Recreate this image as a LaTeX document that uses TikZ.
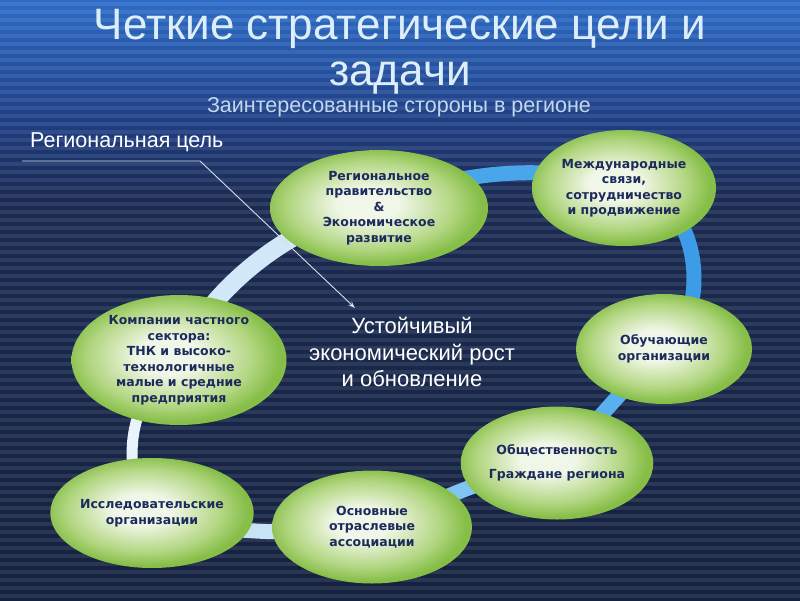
\documentclass[tikz,border=0pt]{standalone}
\usepackage{fontspec}
\setmainfont{Liberation Sans}
\newfontfamily\vfont{DejaVu Sans}
\usetikzlibrary{shapes.geometric,arrows.meta}

\definecolor{bgnavy}{HTML}{1A2A52}
\definecolor{bgdark}{HTML}{15223F}
\definecolor{bgblue}{HTML}{2C6CC8}
\definecolor{bgmid}{HTML}{1E3E84}
\definecolor{leafin}{HTML}{F1F7E8}
\definecolor{leafmid}{HTML}{B2D681}
\definecolor{leafout}{HTML}{86BE48}
\definecolor{leaftext}{HTML}{1C2A5C}
\definecolor{titlecol}{HTML}{DCEEFA}
\definecolor{subcol}{HTML}{C2D8EE}
\definecolor{ringA}{HTML}{D2E8F8}
\definecolor{ringB}{HTML}{4AA6EA}
\definecolor{ringC}{HTML}{3C9CE8}
\definecolor{ringD}{HTML}{58B0EE}
\definecolor{ringE}{HTML}{80C4F2}
\definecolor{ringF}{HTML}{C8E2F6}
\definecolor{ringG}{HTML}{E8F3FB}
\definecolor{pointer}{HTML}{D6DEEA}

\pgfdeclareradialshading{leaf}{\pgfpoint{-3bp}{2bp}}{color(0bp)=(leafin); color(7bp)=(leafin); color(19bp)=(leafmid); color(25bp)=(leafout); color(50bp)=(leafout)}

\pgfdeclarelayer{bg}
\pgfdeclarelayer{ringl}
\pgfsetlayers{bg,ringl,main}

\tikzset{
  stake/.style={ellipse, inner sep=0pt, shading=leaf, text=leaftext,
    align=center, font=\vfont\bfseries\fontsize{12.5}{15.5}\selectfont},
  ringseg/.style={line width=15pt},
  titletext/.style={text=titlecol, font=\fontsize{44}{50}\selectfont, anchor=base},
  pointerline/.style={draw=pointer, line width=0.9pt},
}

\begin{document}
\begin{tikzpicture}[x=1pt,y=-1pt]
\useasboundingbox (0,0) rectangle (800,600);

% background
\begin{pgfonlayer}{bg}
  \fill[bgnavy] (0,0) rectangle (800,600);
  \shade[top color=bgblue, bottom color=bgmid] (0,0) rectangle (800,120);
  \shade[top color=bgmid, bottom color=bgnavy] (0,120) rectangle (800,200);
  \shade[top color=bgnavy, bottom color=bgdark] (0,200) rectangle (800,600);
  \foreach \yy in {2,10,...,598} {
    \fill[white, opacity=0.09] (0,\yy) rectangle (800,\yy+3.5);
  }
\end{pgfonlayer}

% stakeholder ellipses
\node[stake, minimum width=218pt, minimum height=116pt] (reg) at (379,208)
  {Региональное\\правительство\\\&\\Экономическое\\развитие};
\node[stake, minimum width=184pt, minimum height=116pt] (mezhd) at (624,188)
  {Международные\\связи,\\сотрудничество\\и продвижение};
\node[stake, minimum width=176pt, minimum height=110pt] (obuch) at (664,349)
  {Обучающие\\организации};
\node[stake, minimum width=190pt, minimum height=113pt] (obsh) at (557,463)
  {Общественность\\[8pt]Граждане региона};
\node[stake, minimum width=200pt, minimum height=113pt] (osnov) at (372,527)
  {Основные\\отраслевые\\ассоциации};
\node[stake, minimum width=185pt, minimum height=110pt] (issled) at (152,513)
  {Исследовательские\\организации};
\node[stake, minimum width=215pt, minimum height=130pt] (comp) at (179,360)
  {Компании частного\\сектора:\\ТНК и высоко-\\технологичные\\малые и средние\\предприятия};

% ring segments
\begin{pgfonlayer}{ringl}
  \draw[ringseg, ringB] (reg.center) .. controls (450,168) and (560,163) .. (mezhd.center);
  \draw[ringseg, ringC] (mezhd.center) .. controls (705,190) and (712,320) .. (obuch.center);
  \draw[ringseg, ringD] (obuch.center) .. controls (630,380) and (590,430) .. (obsh.center);
  \draw[ringseg, ringE] (obsh.center) .. controls (500,470) and (430,505) .. (osnov.center);
  \draw[ringseg, ringF] (osnov.center) .. controls (300,535) and (220,535) .. (issled.center);
  \draw[ringseg, ringG, line width=11pt] (issled.center) .. controls (122,480) and (122,400) .. (comp.center);
  \draw[ringseg, ringA, line width=18pt] (comp.center) .. controls (205,290) and (300,215) .. (reg.center);
\end{pgfonlayer}

% titles
\node[titletext] (t1) at (400,39) {Четкие стратегические цели и};
\node[titletext] (t2) at (400,85) {задачи};
\node[text=subcol, font=\fontsize{21.5}{26}\selectfont, anchor=base] (sub) at (399,112)
  {Заинтересованные стороны в регионе};

% regional goal label and pointer
\node[text=white, font=\fontsize{21.5}{26}\selectfont, anchor=base west, inner sep=0pt]
  (goal) at (30,147) {Региональная цель};
\coordinate (p0) at (22,161);
\coordinate (p1) at (200,161);
\coordinate (p2) at (355,308);
\draw[pointerline, -{Stealth[length=7pt,width=5pt]}] (p0) -- (p1) -- (p2);

% centre text
\node[text=white, align=center, font=\fontsize{22}{26.5}\selectfont] (centre) at (412,352)
  {Устойчивый\\экономический рост\\и обновление};
\end{tikzpicture}
\end{document}
